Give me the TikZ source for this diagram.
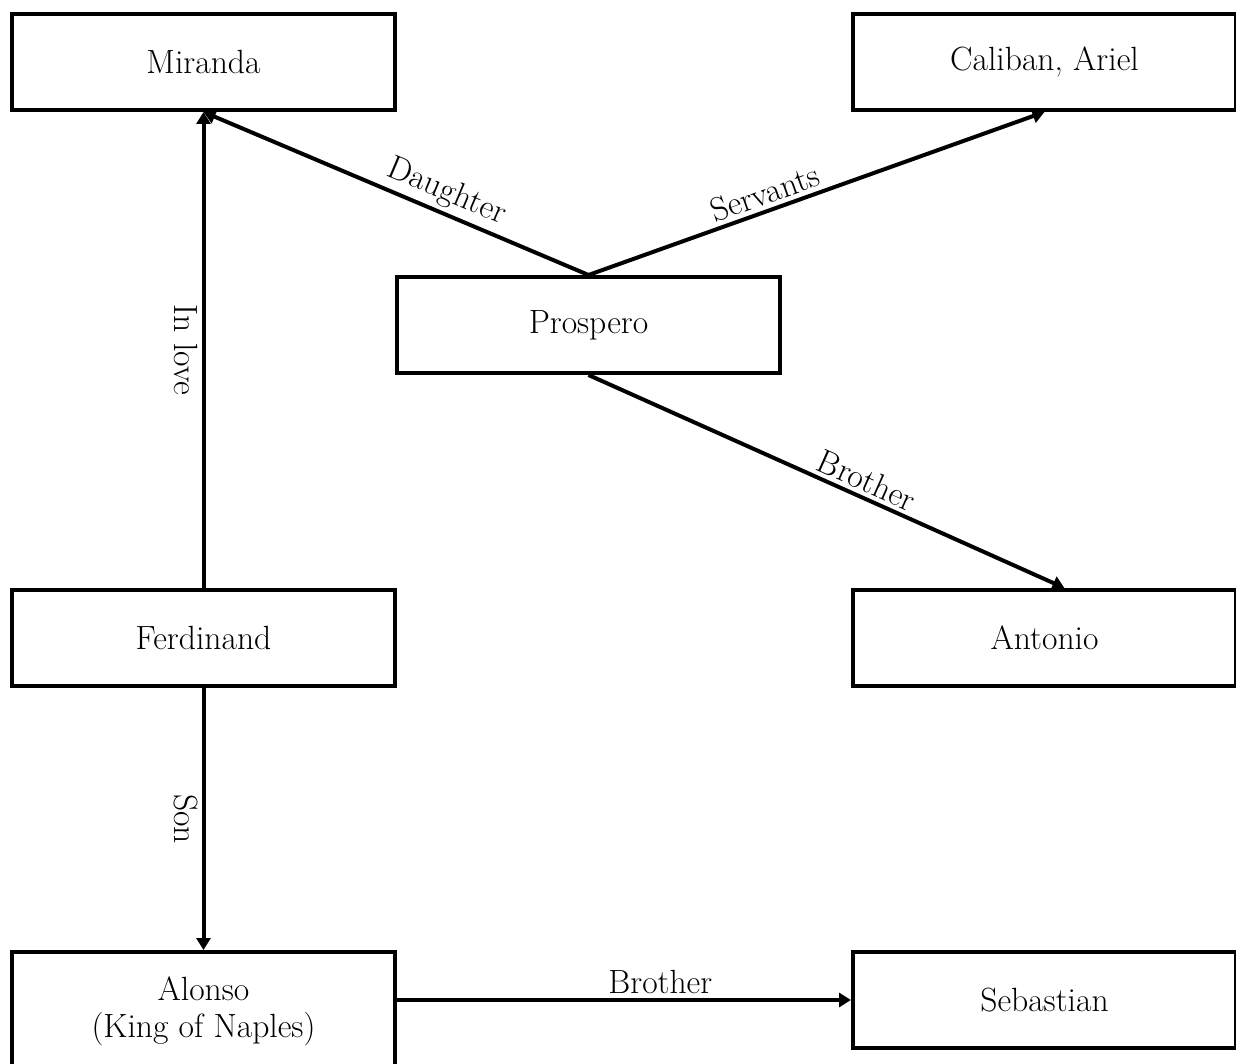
\documentclass[tikz,border=0pt]{standalone}
\usepackage{tikz}
\usetikzlibrary{positioning,arrows.meta}

\tikzset{
	box/.style={draw, line width=2pt, minimum width=191.5pt, minimum height=48pt, inner sep=0pt,
		align=center, font=\fontsize{16.8}{18.5}\selectfont},
	rel/.style={line width=2pt, -{Triangle[length=6pt,width=7pt]}},
	lbl/.style={font=\fontsize{16.8}{18.5}\selectfont, inner sep=2pt},
}

\begin{document}
\begin{tikzpicture}[x=0.5pt, y=-0.5pt]
		\useasboundingbox (0,0) rectangle (1236,1064);
		\node[box] (mi) at (203.5,62) {Miranda};
		\node[box, right=227pt of mi] (ca) {Caliban, Ariel};
		\node[box] (pr) at (588.5,325) {Prospero};
		\node[box, below=238pt of mi] (fe) {Ferdinand};
		\node[box, right=227pt of fe] (an) {Antonio};
		\node[box, below=131pt of fe, minimum height=59.5pt] (al) {Alonso\\(King of Naples)};
		\node[box, right=227pt of al.north east, anchor=north west] (se) {Sebastian};
		\draw[rel] (pr.north) -- node[lbl, pos=0.39, sloped, above] {Daughter} (mi.south);
		\draw[rel] (pr.north) -- node[lbl, pos=0.4, sloped, above] {Servants} (ca.south);
		\draw[rel] (pr.south) -- node[lbl, pos=0.57, sloped, above] {Brother} ([xshift=10pt]an.north);
		\draw[rel] (fe.north) -- node[lbl, midway, below, rotate=-90] {In love} (mi.south);
		\draw[rel] (fe.south) -- node[lbl, midway, below, rotate=-90] {Son} (al.north);
		\draw[rel] (al.east |- se.west) -- node[lbl, pos=0.58, above] {Brother} (se.west);
	\end{tikzpicture}
\end{document}
